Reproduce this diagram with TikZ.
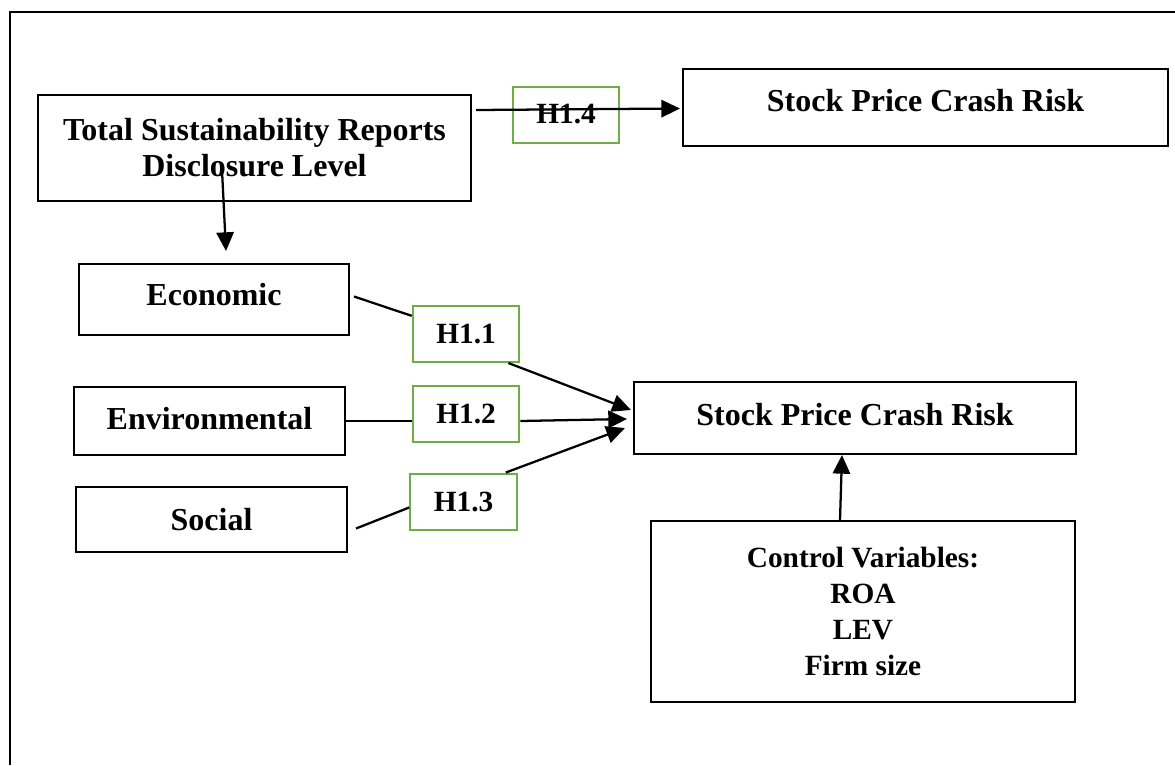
\documentclass[tikz,border=0pt]{standalone}
\usepackage{fontspec}
\setmainfont{Liberation Serif}
\usepackage{xcolor}
\definecolor{hypgreen}{HTML}{70AD47}
\usepackage{tikz}
\usetikzlibrary{calc, arrows.meta}

\begin{document}
\begin{tikzpicture}[x=0.75pt, y=-0.75pt,
  box/.style={draw, line width=1.5pt, inner sep=0pt, align=center,
    font=\fontsize{24}{27}\selectfont\bfseries},
  hyp/.style={draw=hypgreen, line width=1.5pt, inner sep=0pt,
    minimum width=80pt, minimum height=42pt,
    font=\fontsize{22}{26}\selectfont\bfseries},
  arr/.style={line width=1.7pt, -{Triangle[length=14pt, width=13pt]}},
  link/.style={line width=1.7pt}]
  \useasboundingbox (0,0) rectangle (1175,765);

  % Rahmen
  \draw[line width=1.9pt] (1175,12) -- (10,12) -- (10,765);

  % Variablen
  \node[box, minimum width=324.75pt, minimum height=79.5pt] (total) at (254.5,148)
    {Total Sustainability Reports\\Disclosure Level};
  \node[box, minimum width=363.75pt, minimum height=57.75pt, text depth=10pt] (crashtop) at (925.5,107.5)
    {Stock Price Crash Risk};
  \node[box, minimum width=202.5pt, minimum height=53.25pt, text depth=7pt] (econ) at (214,299.5) {Economic};
  \node[box, minimum width=203.25pt, minimum height=51pt, text depth=4pt] (env) at (209.5,421) {Environmental};
  \node[box, minimum width=203.25pt, minimum height=48.75pt] (social) at (211.5,519.5) {Social};
  \node[box, minimum width=331.5pt, minimum height=54pt, text depth=6pt] (crash) at (855,418)
    {Stock Price Crash Risk};
  \node[box, minimum width=318pt, minimum height=135.75pt,
    font=\fontsize{22}{27}\selectfont\bfseries] (control) at (863,611.5)
    {Control Variables:\\ROA\\LEV\\Firm size};

  % Hypothesen
  \node[hyp] (h14) at (566,114.5) {H1.4};
  \node[hyp] (h11) at (466,334) {H1.1};
  \node[hyp] (h12) at (466,414) {H1.2};
  \node[hyp] (h13) at (463.5,501.5) {H1.3};

  % Pfeile
  \draw[arr] ($(total.east)+(4,-38)$) -- ($(crashtop.west)+(-2,1)$);
  \draw[arr] ($(total.center)+(-32.5,22)$) -- ($(econ.north)+(12,-12)$);

  \draw[link] ($(econ.east)+(4,-3)$) -- (h11);
  \draw[arr] ($(h11.south east)+(-12,0)$) -- ($(crash.west)+(-2,-8)$);

  \draw[link] (env.east) -- (env.east -| h12.west);
  \draw[arr] (h12.east |- env.east) -- ($(crash.west)+(-6,1)$);

  \draw[link] ($(social.east)+(8,9)$) -- ($(h13.west)+(0,6)$);
  \draw[arr] ($(h13.north east)+(-12,0)$) -- ($(crash.west)+(-8,10)$);

  \draw[arr] ($(control.north)+(-23,0)$) -- ($(crash.south)+(-13,0)$);

\end{tikzpicture}
\end{document}
